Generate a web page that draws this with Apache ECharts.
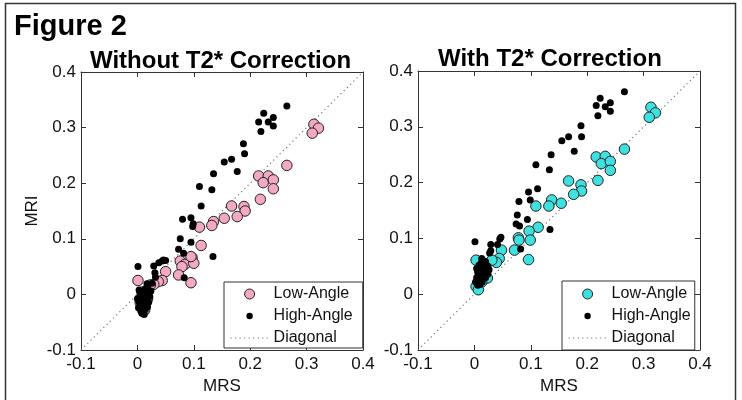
<!DOCTYPE html>
<html>
<head>
<meta charset="utf-8">
<script src="https://cdn.jsdelivr.net/npm/echarts@6/dist/echarts.min.js"></script>
<style>
html,body{margin:0;padding:0;background:#fff;}
#chart{width:742px;height:400px;}
</style>
</head>
<body>
<div id="chart"></div>
<script>
// ---- data (MRS, MRI) ----
const tickValues = [-0.1, 0, 0.1, 0.2, 0.3, 0.4];
const tickLabels = ['-0.1', '0', '0.1', '0.2', '0.3', '0.4'];
const panelTitles = ['Without T2* Correction', 'With T2* Correction'];
const seriesNames = ['Low-Angle', 'High-Angle', 'Diagonal'];

const lowAngleNoCorr = [
  [0.313,0.306],[0.321,0.299],[0.310,0.290],[0.265,0.232],
  [0.215,0.213],[0.232,0.213],[0.223,0.201],[0.241,0.206],[0.241,0.190],[0.218,0.171],
  [0.167,0.159],[0.189,0.158],[0.191,0.150],[0.177,0.140],[0.154,0.137],[0.135,0.131],
  [0.132,0.124],[0.110,0.121],[0.113,0.088],
  [0.076,0.060],[0.084,0.054],[0.079,0.050],[0.097,0.066],[0.100,0.056],[0.095,0.068],
  [0.073,0.035],[0.095,0.021],
  [0.001,0.025],[0.050,0.041],[0.044,0.025],[0.037,0.023],[0.029,0.018],[0.023,0.017],
  [0.008,0.004],[0.013,-0.028],[0.005,-0.015],[0.018,-0.008],[0.010,-0.030],[0.012,-0.002]
];
const highAngleNoCorr = [
  [0.265,0.339],[0.224,0.326],[0.215,0.310],[0.232,0.310],[0.241,0.318],[0.241,0.303],[0.219,0.293],
  [0.188,0.271],[0.190,0.253],[0.167,0.243],[0.154,0.238],[0.177,0.221],[0.135,0.217],
  [0.110,0.194],[0.132,0.188],[0.113,0.159],
  [0.080,0.135],[0.095,0.138],[0.099,0.127],[0.098,0.122],
  [0.076,0.100],[0.095,0.094],[0.073,0.081],[0.082,0.074],[0.134,0.068],[0.083,0.030],
  [0.001,0.050],[0.029,0.051],[0.038,0.057],[0.044,0.060],[0.046,0.062],[0.050,0.061],
  [0.031,0.039],[0.032,0.031],[0.026,0.020],[0.017,0.019],
  [0.003,0.008],[0.006,0.002],[0.010,0.004],[0.014,0.010],[0.018,0.012],[0.004,-0.004],
  [0.008,-0.006],[0.012,-0.002],[0.016,0.000],[0.020,0.002],[0.002,-0.012],[0.006,-0.014],
  [0.010,-0.010],[0.014,-0.012],[0.018,-0.006],[0.022,-0.004],[0.004,-0.020],[0.008,-0.022],
  [0.012,-0.018],[0.016,-0.016],[0.020,-0.014],[0.006,-0.028],[0.010,-0.030],[0.014,-0.026],
  [0.008,-0.034],[0.012,-0.036],[0.000,-0.008],[0.024,0.006],[0.002,-0.024],[0.018,-0.022]
];
const lowAngleCorr = [
  [0.313,0.335],[0.321,0.325],[0.310,0.317],[0.266,0.260],
  [0.216,0.246],[0.232,0.247],[0.225,0.234],[0.241,0.238],[0.241,0.222],[0.219,0.204],
  [0.167,0.203],[0.189,0.196],[0.190,0.185],[0.176,0.179],
  [0.137,0.169],[0.132,0.158],[0.154,0.163],[0.109,0.158],
  [0.113,0.120],[0.097,0.113],[0.078,0.101],[0.079,0.097],[0.099,0.097],[0.071,0.079],[0.096,0.062],
  [0.048,0.079],[0.044,0.064],[0.039,0.057],[0.031,0.061],[0.003,0.061],
  [0.023,0.029],[0.003,0.014],[0.007,0.008],[0.010,0.040],[0.015,0.050],[0.013,0.022]
];
const highAngleCorr = [
  [0.266,0.363],[0.223,0.351],[0.216,0.338],[0.232,0.336],[0.241,0.343],[0.241,0.328],[0.219,0.320],
  [0.189,0.302],[0.190,0.282],[0.167,0.282],[0.155,0.275],[0.177,0.256],[0.136,0.250],[0.133,0.223],[0.109,0.232],
  [0.112,0.189],[0.096,0.183],[0.079,0.166],[0.099,0.169],
  [0.076,0.142],[0.094,0.134],[0.074,0.126],[0.080,0.122],[0.134,0.116],[0.082,0.081],
  [0.001,0.094],[0.029,0.089],[0.041,0.089],[0.047,0.102],[0.045,0.099],[0.029,0.078],[0.027,0.074],[0.013,0.064],
  [0.004,0.030],[0.008,0.034],[0.012,0.038],[0.016,0.042],[0.020,0.046],[0.024,0.050],[0.006,0.040],
  [0.010,0.044],[0.014,0.048],[0.018,0.054],[0.022,0.040],[0.002,0.022],[0.006,0.024],[0.010,0.028],
  [0.014,0.030],[0.018,0.034],[0.004,0.046],[0.008,0.052],[0.012,0.056],[0.016,0.060],[0.020,0.030],
  [0.024,0.036],[0.010,0.018],[0.014,0.022],[0.006,0.016],[0.020,0.058],[0.026,0.044]
];

const axisMin = tickValues[0];
const axisMax = tickValues[tickValues.length - 1];
const diagonal = [[axisMin, axisMin], [axisMax, axisMax]];

// ---- styles / layout ----
const FONT = 'Liberation Sans, Arial, sans-serif';
const grids = [
  { left: 81, top: 72, width: 282, height: 283 },
  { left: 418, top: 71, width: 282, height: 283 }
];
const lineColor = '#333';

function axisBase(gridIndex, position, showLabel) {
  return {
    type: 'value', gridIndex: gridIndex, position: position,
    min: axisMin, max: axisMax, interval: 0.1,
    axisLine: { show: true, onZero: false, lineStyle: { color: lineColor, width: 1 } },
    axisTick: { show: true, inside: true, length: 5, lineStyle: { color: lineColor } },
    splitLine: { show: false },
    axisLabel: {
      show: showLabel, fontSize: 17, color: '#111', fontFamily: FONT, margin: 5,
      formatter: function (v, i) { return tickLabels[i]; }
    }
  };
}

const xAxes = [], yAxes = [];
[0, 1].forEach(function (g) {
  const xb = axisBase(g, 'bottom', true);
  xb.name = 'MRS'; xb.nameLocation = 'middle'; xb.nameGap = 28;
  xb.nameTextStyle = { fontSize: 17, color: '#111', fontFamily: FONT };
  xb.axisLabel.margin = 6;
  xAxes.push(xb);
  xAxes.push(axisBase(g, 'top', false));
  const yl = axisBase(g, 'left', true);
  if (g === 0) {
    yl.name = 'MRI'; yl.nameLocation = 'middle'; yl.nameGap = 40;
    yl.nameTextStyle = { fontSize: 17, color: '#111', fontFamily: FONT };
  }
  yAxes.push(yl);
  yAxes.push(axisBase(g, 'right', false));
});

const lowColors = ['#f3a9c4', '#3fe0e0'];
const lowData = [lowAngleNoCorr, lowAngleCorr];
const highData = [highAngleNoCorr, highAngleCorr];

const series = [];
[0, 1].forEach(function (g) {
  series.push({
    type: 'line', name: seriesNames[2], xAxisIndex: g * 2, yAxisIndex: g * 2,
    data: diagonal, symbol: 'none', silent: true, z: 1,
    lineStyle: { type: [1.2, 3.3], color: '#777', width: 1.2 },
    itemStyle: { color: '#777' }
  });
  series.push({
    type: 'scatter', name: seriesNames[0], xAxisIndex: g * 2, yAxisIndex: g * 2,
    data: lowData[g], symbol: 'circle', symbolSize: 10.5, z: 2,
    itemStyle: { color: lowColors[g], borderColor: '#222', borderWidth: 1, opacity: 1 }
  });
  series.push({
    type: 'scatter', name: seriesNames[1], xAxisIndex: g * 2, yAxisIndex: g * 2,
    data: highData[g], symbol: 'circle', symbolSize: 7, z: 3,
    itemStyle: { color: '#000', opacity: 1 }
  });
});

const smallDot = 'path://M0,0M10,10M1.8,5A3.2,3.2 0 1,1 8.2,5A3.2,3.2 0 1,1 1.8,5Z';
function legendAt(g, left, top, padding) {
  return {
    orient: 'vertical', left: left, top: top, padding: padding,
    itemWidth: 38, itemHeight: 10, itemGap: 6, symbolKeepAspect: true,
    borderColor: '#333', borderWidth: 1, backgroundColor: '#fff',
    selectedMode: false,
    textStyle: { fontSize: 16, color: '#111', fontFamily: FONT },
    data: [
      { name: seriesNames[0], icon: 'circle',
        itemStyle: { color: lowColors[g], borderColor: '#222', borderWidth: 1 } },
      { name: seriesNames[1], icon: smallDot, itemStyle: { color: '#000', borderWidth: 0 } },
      { name: seriesNames[2], itemStyle: { opacity: 0, color: 'transparent', borderWidth: 0 },
        lineStyle: { type: [1.2, 3.3], color: '#777', width: 1.2, opacity: 1 } }
    ]
  };
}

const option = {
  animation: false,
  backgroundColor: '#fff',
  title: [
    { text: 'Figure 2', left: 14, top: 12, padding: 0,
      textStyle: { fontSize: 29, fontWeight: 'bold', color: '#000', fontFamily: FONT } },
    { text: panelTitles[0], left: 90, top: 49, padding: 0,
      textStyle: { fontSize: 24, fontWeight: 'bold', color: '#000', fontFamily: FONT } },
    { text: panelTitles[1], left: 438, top: 47, padding: 0,
      textStyle: { fontSize: 24, fontWeight: 'bold', color: '#000', fontFamily: FONT } }
  ],
  grid: grids,
  xAxis: xAxes,
  yAxis: yAxes,
  legend: [legendAt(0, 224, 282, [4, 10, 2, 6]), legendAt(1, 562, 281, [5, 4, 4, 6])],
  graphic: [{
    type: 'rect', left: 3, top: 1, z: 0, silent: true,
    shape: { width: 730, height: 402 },
    style: { fill: null, stroke: '#333', lineWidth: 1.5 }
  }],
  series: series
};

const chart = echarts.init(document.getElementById('chart'), null, { renderer: 'canvas' });
chart.setOption(option);
</script>
</body>
</html>
